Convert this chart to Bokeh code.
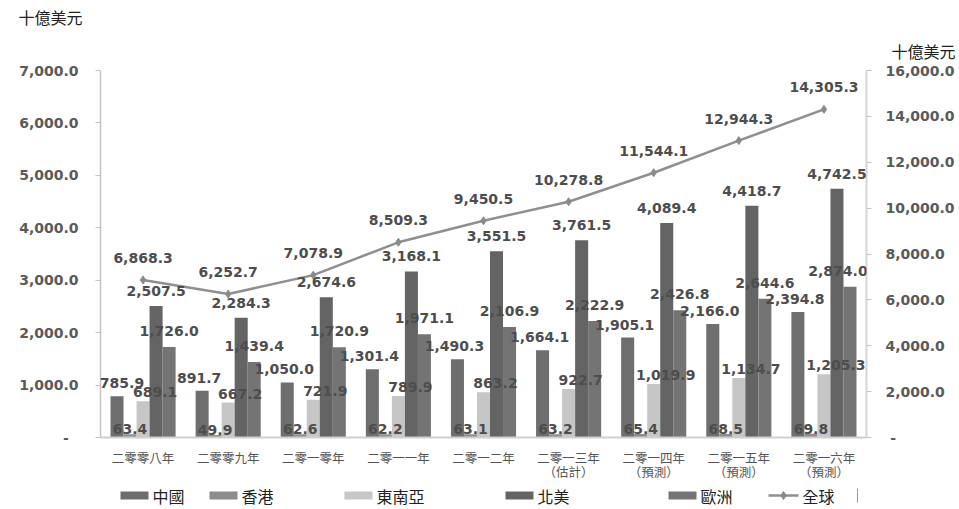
from bokeh.plotting import figure
from bokeh.layouts import column
from bokeh.models import (Range1d, LinearAxis, FixedTicker, NumeralTickFormatter,
                          ColumnDataSource, LabelSet, Title)
from bokeh.transform import dodge
from bokeh.core.properties import value
from bokeh.embed import file_html
from bokeh.resources import INLINE

# Categories (years)
years = ["二零零八年", "二零零九年", "二零一零年", "二零一一年", "二零一二年",
         "二零一三年", "二零一四年", "二零一五年", "二零一六年"]
year_notes = ["", "", "", "", "", "（估計）", "（預測）", "（預測）", "（預測）"]

# Series values, billion USD
china = [785.9, 891.7, 1050.0, 1301.4, 1490.3, 1664.1, 1905.1, 2166.0, 2394.8]
hong_kong = [63.4, 49.9, 62.6, 62.2, 63.1, 63.2, 65.4, 68.5, 69.8]
se_asia = [689.1, 667.2, 721.9, 789.9, 863.2, 922.7, 1019.9, 1134.7, 1205.3]
north_america = [2507.5, 2284.3, 2674.6, 3168.1, 3551.5, 3761.5, 4089.4, 4418.7, 4742.5]
europe = [1726.0, 1439.4, 1720.9, 1971.1, 2106.9, 2222.9, 2426.8, 2644.6, 2874.0]
world = [6868.3, 6252.7, 7078.9, 8509.3, 9450.5, 10278.8, 11544.1, 12944.3, 14305.3]

left_ticks = [0, 1000, 2000, 3000, 4000, 5000, 6000, 7000]
right_ticks = [0, 2000, 4000, 6000, 8000, 10000, 12000, 14000, 16000]

series_names = ["中國", "香港", "東南亞", "北美", "歐洲"]
series_colors = ["#6e6e6e", "#8c8c8c", "#c6c6c6", "#646464", "#747474"]
line_color = "#8f8f8f"

W, H = 959, 509
LEG_H = 24           # strip holding the legend
FL, FR = 100, 866    # frame edges
FT, FB = 70, 437     # frame top / bottom on the page

NUM_FONT = "DejaVu Sans"
CJK = "Noto Sans CJK TC"
LABEL_COLOR = "#4d4d4d"
TICK_COLOR = "#5a5a5a"
CAPTION_COLOR = "#222222"

n = len(years)
centers = [i + 0.5 for i in range(n)]

BW = 0.153
offsets = [-2 * BW, -BW, 0, BW, 2 * BW]
cols = ["china", "hong_kong", "se_asia", "north_america", "europe"]
label_dx = [-3, 0, 12, 0, 0]
label_lift = [13, 5, 9, 15, 16]
# keep the outermost labels inside the plotting area
edge_nudge = {("china", 0): 8, ("europe", n - 1): -12}


def fmt(vals):
    return [f"{v:,.1f}" for v in vals]


data = dict(xc=centers, china=china, hong_kong=hong_kong, se_asia=se_asia,
            north_america=north_america, europe=europe, world=world)
for col, dx in zip(cols, label_dx):
    data[col + "_t"] = fmt(data[col])
    data[col + "_dx"] = [dx + edge_nudge.get((col, i), 0) for i in range(n)]
data["world_t"] = fmt(world)
src = ColumnDataSource(data)

# ---------------- main chart ----------------
p = figure(width=W, frame_width=FR - FL, frame_height=FB - FT,
           x_range=Range1d(0, n), y_range=Range1d(0, 7000),
           output_backend="svg", toolbar_location=None,
           min_border_left=FL, min_border_right=W - FR,
           min_border_top=FT, min_border_bottom=H - LEG_H - FB)
p.outline_line_color = None
p.xgrid.grid_line_color = None
p.ygrid.grid_line_color = None
p.extra_y_ranges = {"world": Range1d(0, 16000)}

# unit captions above the two value axes (left one outermost)
p.title = Title(text="十億美元", align="left", offset=18 - FL, standoff=0,
                text_font=CJK, text_font_size="16px", text_font_style="normal",
                text_line_height=0.8, text_color=CAPTION_COLOR)
p.add_layout(Title(text="十億美元", align="right", offset=-(W - FR - 4), standoff=16,
                   text_font=CJK, text_font_size="16px", text_font_style="normal",
                   text_line_height=0.8, text_color=CAPTION_COLOR), "above")

for col, color, off in zip(cols, series_colors, offsets):
    p.vbar(x=dodge("xc", off), top=col, width=BW, bottom=0, source=src,
           fill_color=color, line_color=None)

p.line(x="xc", y="world", source=src, y_range_name="world", line_color=line_color, line_width=2.5)
p.scatter(x="xc", y="world", source=src, y_range_name="world", marker="diamond", size=8,
          fill_color="#8a8a8a", line_color="#8a8a8a")

# value labels
for col, off, lift in zip(cols, offsets, label_lift):
    p.add_layout(LabelSet(x=dodge("xc", off), y=col, text=col + "_t", source=src,
                          x_offset=col + "_dx", y_offset=lift,
                          text_align="center", text_baseline="middle",
                          text_font=value(NUM_FONT), text_font_style="bold", text_font_size="14px",
                          text_color=LABEL_COLOR))
p.add_layout(LabelSet(x="xc", y="world", text="world_t", source=src, y_range_name="world",
                      y_offset=22, text_align="center", text_baseline="middle",
                      text_font=value(NUM_FONT), text_font_style="bold", text_font_size="14px",
                      text_color=LABEL_COLOR))

# x axis: year names, with the estimate / forecast note on a second line
xa = p.xaxis[0]
xa.ticker = FixedTicker(ticks=centers)
xa.major_label_overrides = {c: (f"{y}\n{nt}" if nt else y)
                            for c, y, nt in zip(centers, years, year_notes)}
xa.axis_line_color = "#cfcfcf"
xa.axis_line_width = 2
xa.major_tick_line_color = None
xa.minor_tick_line_color = None
xa.major_label_text_font = CJK
xa.major_label_text_font_size = "12.5px"
xa.major_label_text_color = "#555555"
xa.major_label_text_line_height = 0.75
xa.major_label_standoff = 4

ya = p.yaxis[0]
ya.ticker = FixedTicker(ticks=left_ticks)
ya.formatter = NumeralTickFormatter(format="0,0.0")
ya.major_label_overrides = {0: "-\u00a0\u00a0"}
ya.axis_line_color = "#c4c4c4"
ya.axis_line_width = 1.5
ya.major_tick_line_color = "#c4c4c4"
ya.major_tick_in = 0
ya.major_tick_out = 5
ya.minor_tick_line_color = None
ya.major_label_text_font = NUM_FONT
ya.major_label_text_font_style = "bold"
ya.major_label_text_font_size = "14px"
ya.major_label_text_color = TICK_COLOR
ya.major_label_standoff = 17

ra = LinearAxis(y_range_name="world", ticker=FixedTicker(ticks=right_ticks),
                formatter=NumeralTickFormatter(format="0,0.0"))
ra.major_label_overrides = {0: "\u00a0-"}
ra.axis_line_color = "#d6d6d6"
ra.axis_line_width = 2
ra.major_tick_line_color = "#c4c4c4"
ra.major_tick_in = 0
ra.major_tick_out = 5
ra.minor_tick_line_color = None
ra.major_label_text_font = NUM_FONT
ra.major_label_text_font_style = "bold"
ra.major_label_text_font_size = "14px"
ra.major_label_text_color = TICK_COLOR
ra.major_label_standoff = 14
p.add_layout(ra, "right")

# ---------------- legend strip (x in page pixels, y downward) ----------------
leg = figure(width=W, height=LEG_H, x_range=Range1d(FL, FR), y_range=Range1d(LEG_H, 0),
             output_backend="svg", toolbar_location=None,
             min_border_left=FL, min_border_right=W - FR, min_border_top=0, min_border_bottom=0)
leg.axis.visible = False
leg.grid.visible = False
leg.outline_line_color = None
LY = 10
swatch_x = [120, 209, 344, 505, 668]
leg.rect(x=[x + 14 for x in swatch_x], y=[LY] * 5, width=28, height=8,
         fill_color=series_colors, line_color=None)
leg.text(x=[x + 32 for x in swatch_x], y=[LY] * 5, text=series_names, text_font=value(CJK),
         text_font_size="16px", text_color=CAPTION_COLOR, text_baseline="middle", text_align="left")
leg.line(x=[768, 798], y=[LY, LY], line_color=line_color, line_width=2.5)
leg.scatter(x=[783], y=[LY], marker="diamond", size=8, fill_color="#8a8a8a", line_color="#8a8a8a")
leg.text(x=[802], y=[LY], text=["全球"], text_font=value(CJK), text_font_size="16px",
         text_color=CAPTION_COLOR, text_baseline="middle", text_align="left")
leg.line(x=[857, 857], y=[LY - 7, LY + 7], line_color="#9a9a9a", line_width=1)

layout = column(p, leg, spacing=0)
open("out.html", "w").write(file_html(layout, INLINE))
